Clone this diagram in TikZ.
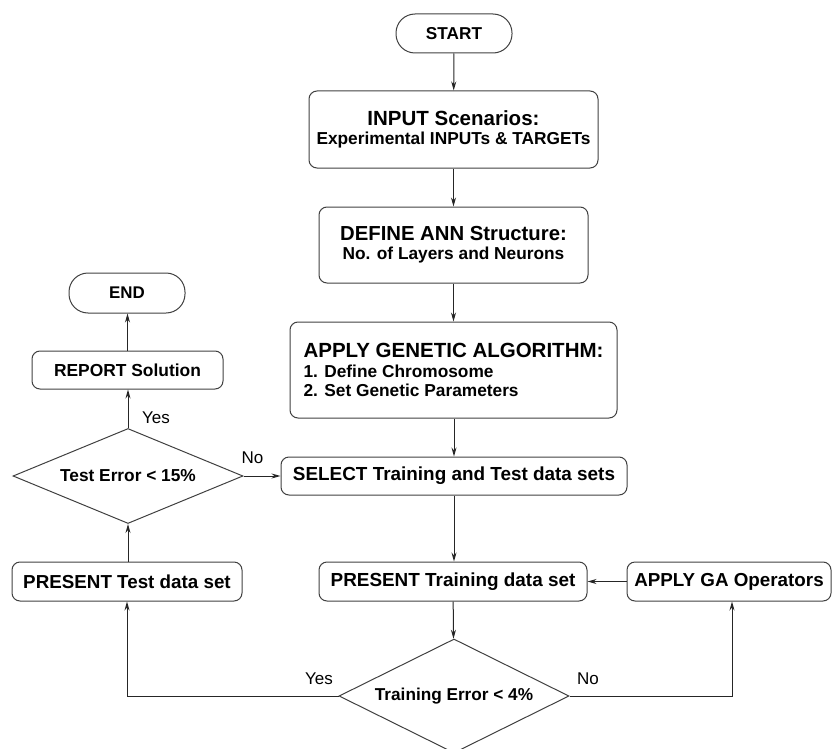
\documentclass[tikz,border=0pt]{standalone}
\usepackage{fontspec}
\setmainfont{Liberation Sans}
\usetikzlibrary{shapes.geometric,arrows.meta}
\newcommand\fz[2]{\fontsize{#1pt}{#2pt}\selectfont}
\tikzset{
  box/.style={draw=black!75, line width=1pt, rounded corners=8pt, inner sep=0pt, align=center},
  term/.style={box, rounded corners=19pt},
  dec/.style={draw=black!75, line width=1pt, diamond, aspect=2.4, inner sep=0pt, minimum width=230pt},
  arr/.style={draw=black!85, line width=1pt, -{Stealth[length=9pt,width=5pt]}},
  lbl/.style={font=\fz{17}{20}, inner sep=0pt},
}
\begin{document}
\begin{tikzpicture}[x=1pt,y=-1pt]
\useasboundingbox (0,0) rectangle (832,749);
% main column
\node[term, minimum width=116pt, minimum height=39pt, font=\bfseries\fz{17.2}{20}] (start) at (454,33.5) {START};
\node[box, minimum width=289pt, minimum height=77pt, font=\bfseries\fz{17.3}{19}] (input) at (453.5,129.5)
  {\fz{20.5}{19}INPUT Scenarios:\\\fz{17.3}{19}Experimental INPUTs \& TARGETs};
\node[box, minimum width=269pt, minimum height=76pt, font=\bfseries\fz{17.3}{19}] (ann) at (453.5,245)
  {\fz{20.3}{19}DEFINE ANN Structure:\\\fz{17.3}{19}No. of Layers and Neurons};
\node[box, minimum width=327pt, minimum height=96pt, align=left, font=\bfseries\fz{17.3}{19.5}] (ga) at (453.5,370)
  {\fz{20.5}{19.5}APPLY GENETIC ALGORITHM:\\\fz{17.3}{19.5}1. Define Chromosome\\\fz{17.3}{19.5}2. Set Genetic Parameters};
\node[box, minimum width=346pt, minimum height=38pt, font=\bfseries\fz{18.9}{20}] (select) at (454,476) {SELECT Training and Test data sets};
\node[box, minimum width=268pt, minimum height=39pt, font=\bfseries\fz{18.9}{20}] (ptrain) at (453,581.5) {PRESENT Training data set};
\node[box, minimum width=204pt, minimum height=39pt, font=\bfseries\fz{18.8}{20}] (gaop) at (729,581.5) {APPLY GA Operators};
\node[dec, minimum height=114pt, font=\bfseries\fz{17.2}{20}] (trerr) at (454,696) {Training Error < 4\%};
% left column
\node[box, minimum width=230pt, minimum height=39pt, font=\bfseries\fz{18.8}{20}] (ptest) at (127,581.5) {PRESENT Test data set};
\node[dec, minimum height=95pt, font=\bfseries\fz{17.3}{20}] (teerr) at (128,476) {Test Error < 15\%};
\node[box, minimum width=191pt, minimum height=38pt, font=\bfseries\fz{17.4}{20}] (report) at (127.5,370) {REPORT Solution};
\node[term, minimum width=116pt, minimum height=40pt, font=\bfseries\fz{16.9}{20}] (end) at (127,293) {END};
% connectors
\draw[arr] (start) -- (input);
\draw[arr] (input) -- (ann);
\draw[arr] (ann) -- (ga);
\draw[arr] (ga.south -| select.north) -- (select);
\draw[arr] (select) -- (ptrain.north -| select.south);
\draw[arr] (ptrain) -- (trerr);
\coordinate (yesc) at (127,696);
\coordinate (noc) at (732,696);
\draw[arr] (trerr.west) -- (yesc) -- (yesc |- ptest.south);
\draw[arr] (trerr.east) -- (noc) -- (noc |- gaop.south);
\draw[arr] (gaop) -- (ptrain);
\draw[arr] (ptest.north -| teerr.south) -- (teerr.south);
\draw[arr] (teerr.north) -- (teerr.north |- report.south);
\draw[arr] (report) -- (end.south -| report.north);
\draw[arr] (teerr.east) -- (teerr.east -| select.west);
% labels
\node[lbl] (yes1) at (156,418) {Yes};
\node[lbl] (no1) at (252.5,457.5) {No};
\node[lbl] (yes2) at (319,678.5) {Yes};
\node[lbl] (no2) at (588,678.5) {No};
\end{tikzpicture}
\end{document}
